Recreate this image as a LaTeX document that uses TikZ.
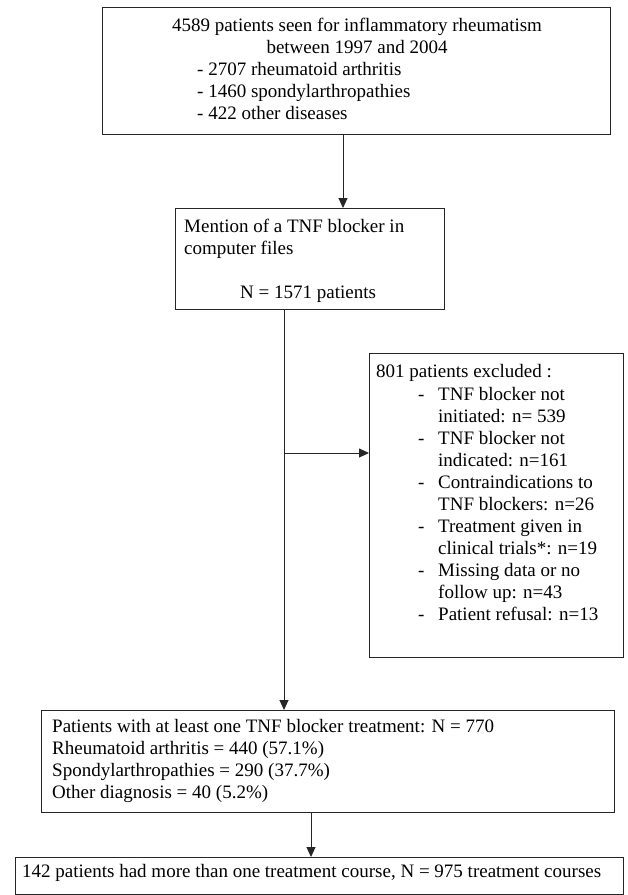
\documentclass[tikz,border=0pt]{standalone}
\usepackage{fontspec}
\setmainfont{Liberation Serif}
\usetikzlibrary{arrows.meta,calc}
\begin{document}
\begin{tikzpicture}[x=1pt,y=-1pt,
  box/.style={draw=black!85, line width=0.9pt, anchor=north west, inner sep=0pt, outer sep=0pt},
  txt/.style={anchor=base west, inner sep=0pt, font=\fontsize{19}{22}\selectfont},
  ctxt/.style={anchor=base, inner sep=0pt, font=\fontsize{19}{22}\selectfont},
  conn/.style={draw=black!85, line width=0.9pt},
  arr/.style={conn, -{Triangle[length=10pt,width=9pt]}}]
\useasboundingbox (0,0) rectangle (628,895);
% boxes
\node[box, minimum width=508pt, minimum height=127pt] (b1) at (102,7) {};
\node[box, minimum width=269pt, minimum height=101pt] (b2) at (175,208) {};
\node[box, minimum width=254pt, minimum height=304pt] (b3) at (369,353) {};
\node[box, minimum width=573pt, minimum height=102pt] (b4) at (41,710) {};
\node[box, minimum width=608pt, minimum height=37pt] (b5) at (15,857) {};
% box 1 text
\node[ctxt] (t1a) at (357,31) {\parbox[t]{480pt}{\centering 4589 patients seen for inflammatory rheumatism\\ between 1997 and 2004}};
\node[txt] (t1b) at (197,75) {\parbox[t]{400pt}{\raggedright - 2707 rheumatoid arthritis\\ - 1460 spondylarthropathies\\ - 422 other diseases}};
% box 2 text
\node[txt] (t2a) at (184,232) {\parbox[t]{260pt}{\raggedright Mention of a TNF blocker in\\ computer files}};
\node[txt] (t2b) at (240,298) {N = 1571 patients};
% box 3 text
\node[txt] (t3a) at (376,377) {801 patients excluded :};
\node[txt] (t3d) at (418,400) {\parbox[t]{20pt}{\raggedright -\\ \mbox{}\\ -\\ \mbox{}\\ -\\ \mbox{}\\ -\\ \mbox{}\\ -\\ \mbox{}\\ -}};
\node[txt] (t3b) at (438,400) {\parbox[t]{184pt}{\raggedright TNF blocker not\\ initiated: n= 539\\ TNF blocker not\\ indicated: n=161\\ Contraindications to\\ TNF blockers: n=26\\ Treatment given in\\ clinical trials*: n=19\\ Missing data or no\\ follow up: n=43\\ Patient refusal: n=13}};
% box 4 text
\node[txt] (t4) at (52,732) {\parbox[t]{560pt}{\raggedright Patients with at least one TNF blocker treatment: N = 770\\ Rheumatoid arthritis = 440 (57.1\%)\\ Spondylarthropathies = 290 (37.7\%)\\ Other diagnosis = 40 (5.2\%)}};
% box 5 text
\node[txt] (t5) at (22,877) {142 patients had more than one treatment course, N = 975 treatment courses};
% connectors
\coordinate (x1) at (343,0);
\coordinate (x2) at (284,0);
\coordinate (x3) at (311,0);
\coordinate (j) at (284,453);
\draw[arr] (b1.south -| x1) -- (b2.north -| x1);
\draw[arr] (b2.south -| x2) -- (b4.north -| x2);
\draw[arr] (j) -- (b3.west |- j);
\draw[arr] (b4.south -| x3) -- (b5.north -| x3);
\end{tikzpicture}
\end{document}
